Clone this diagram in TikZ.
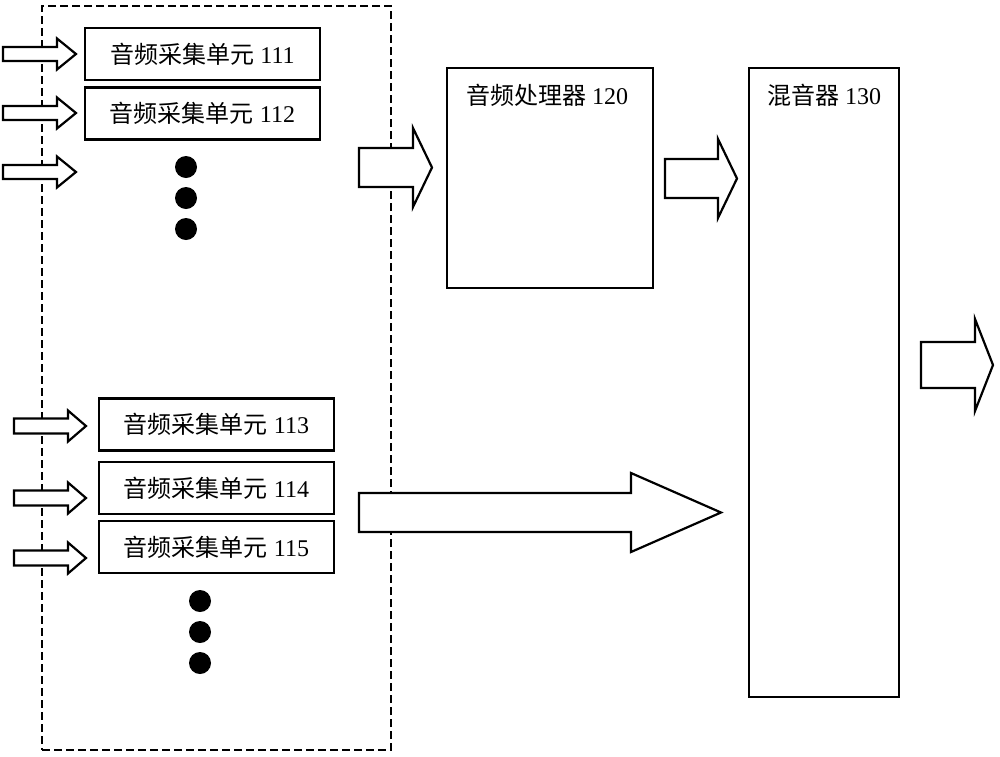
\documentclass[tikz,border=0pt]{standalone}
\usepackage{fontspec}
\setmainfont{Liberation Serif}
\newfontfamily\cjk{Noto Sans CJK SC}
\begin{document}
\begin{tikzpicture}[x=1pt,y=-1pt,
  unitbox/.style={draw,line width=2.2pt,minimum width=235pt,minimum height=52pt,inner sep=0pt,font=\fontsize{24}{24}\selectfont},
  bigbox/.style={draw,line width=2.2pt,inner sep=0pt},
  lbl/.style={font=\fontsize{24}{24}\selectfont,inner sep=0pt},
  arr/.style={draw,line width=2.2pt,line join=miter,fill=white},
  grp/.style={draw,line width=1.8pt,dash pattern=on 8pt off 4pt},
  dot/.style={fill=black}]
\useasboundingbox (0,0) rectangle (1000,756);
\newcommand\blockarrow[6]{%
  \draw[arr] (#1,#4-#5) -- (#2,#4-#5) -- (#2,#4-#6) -- (#3,#4) -- (#2,#4+#6) -- (#2,#4+#5) -- (#1,#4+#5) -- cycle;}
% group
\node[grp,minimum width=349pt,minimum height=744pt,inner sep=0pt] (group) at (216.5,378) {};
% units
\node[unitbox] (u111) at (202.5,54) {{\cjk 音频采集单元} 111};
\node[unitbox] (u112) at (202.5,113.5) {{\cjk 音频采集单元} 112};
\node[unitbox] (u113) at (216.5,424.5) {{\cjk 音频采集单元} 113};
\node[unitbox] (u114) at (216.5,488) {{\cjk 音频采集单元} 114};
\node[unitbox] (u115) at (216.5,547) {{\cjk 音频采集单元} 115};
% dots
\fill[dot] (186,167) circle (11);
\fill[dot] (186,198) circle (11);
\fill[dot] (186,229) circle (11);
\fill[dot] (200,601) circle (11);
\fill[dot] (200,632) circle (11);
\fill[dot] (200,663) circle (11);
% processor and mixer
\node[bigbox,minimum width=206pt,minimum height=220pt] (p120) at (550,178) {};
\node[lbl] (p120t) at (547,95) {{\cjk 音频处理器} 120};
\node[bigbox,minimum width=150pt,minimum height=629pt] (m130) at (824,382.5) {};
\node[lbl] (m130t) at (824,95) {{\cjk 混音器} 130};
% input arrows
\blockarrow{3}{57}{76}{54}{7}{15.5}
\blockarrow{3}{57}{76}{113}{7}{15.5}
\blockarrow{3}{57}{76}{172}{7}{15.5}
\blockarrow{14}{68}{86}{426}{7.5}{15.5}
\blockarrow{14}{68}{86}{498}{7.5}{15.5}
\blockarrow{14}{68}{86}{558}{7.5}{15.5}
% group to processor
\blockarrow{359}{413}{432}{167.5}{19.5}{39.5}
% processor to mixer
\blockarrow{665}{718}{737}{178.5}{19.5}{39.5}
% group to mixer
\blockarrow{359}{631}{721}{512.5}{19.5}{39.5}
% mixer output
\blockarrow{921}{975}{993}{365}{23}{46}
\end{tikzpicture}
\end{document}
